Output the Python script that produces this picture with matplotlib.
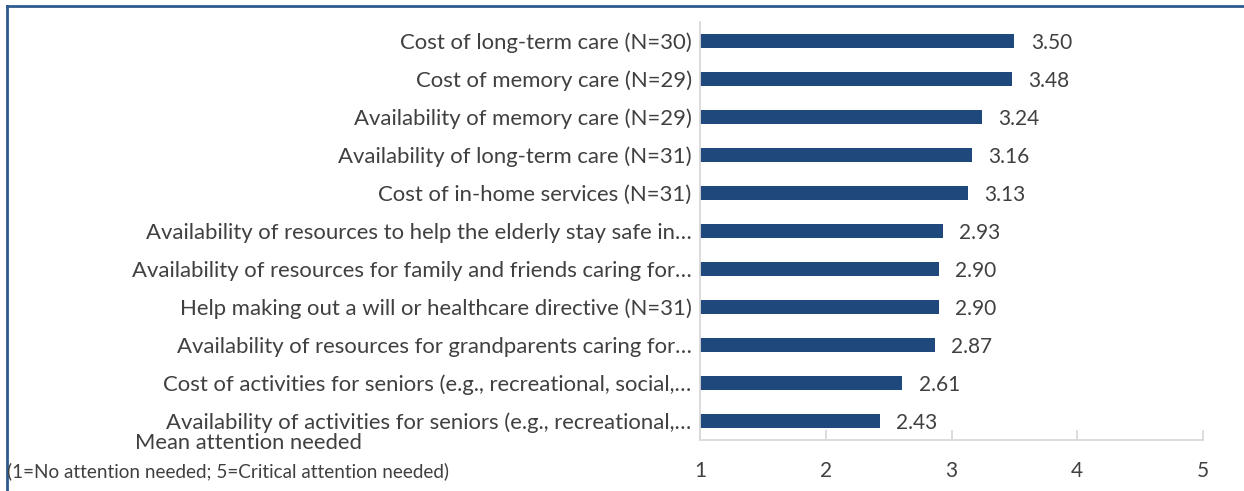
import numpy as np
import matplotlib
matplotlib.use("Agg")
from matplotlib import pyplot as plt
from matplotlib.lines import Line2D

labels = [
    "Cost of long-term care (N=30)",
    "Cost of memory care (N=29)",
    "Availability of memory care (N=29)",
    "Availability of long-term care (N=31)",
    "Cost of in-home services (N=31)",
    "Availability of resources to help the elderly stay safe in…",
    "Availability of resources for family and friends caring for…",
    "Help making out a will or healthcare directive (N=31)",
    "Availability of resources for grandparents caring for…",
    "Cost of activities for seniors (e.g., recreational, social,…",
    "Availability of activities for seniors (e.g., recreational,…",
]
means = [3.50, 3.48, 3.24, 3.16, 3.13, 2.93, 2.90, 2.90, 2.87, 2.61, 2.43]
xticks = [1, 2, 3, 4, 5]

plt.rcParams['font.family'] = ['Lato', 'DejaVu Sans']
txt = "#404040"
bar_c = "#1F497D"

fig = plt.figure(figsize=(12.44, 4.91), dpi=100)
ax = fig.add_axes([700/1244, 1-440/491, 503/1244, 418/491])

y = np.arange(len(labels))
ax.barh(y, np.array(means) - 1, left=1, height=0.37, color=bar_c)
for yi, m in zip(y, means):
    ax.text(m + 0.13, yi + 0.06, f"{m:.2f}", va="center", ha="left", fontsize=15, color=txt)

ax.set_xlim(1, 5)
ax.set_ylim(len(labels) - 0.5, -0.5)
ax.set_yticks(y)
ax.set_yticklabels(labels, fontsize=15.9, color=txt)
ax.set_xticks(xticks)
ax.set_xticklabels([str(t) for t in xticks], fontsize=15, color=txt)
ax.tick_params(axis="y", length=0, pad=6)
ax.tick_params(axis="x", direction="in", length=7, color="#D9D9D9", width=1.3, pad=15)
for s in ["top", "right"]:
    ax.spines[s].set_visible(False)
for s in ["left", "bottom"]:
    ax.spines[s].set_color("#D9D9D9")
    ax.spines[s].set_linewidth(1.3)

fig.text(248/1244, 1-443/491, "Mean attention needed", ha="center", va="center", fontsize=15.8, color=txt)
fig.text(7/1244, 1-471/491, "(1=No attention needed; 5=Critical attention needed)", ha="left", va="center",
         fontsize=13.6, color=txt)

# frame lines
fig.add_artist(Line2D([7/1244, 1], [1-6/491, 1-6/491], transform=fig.transFigure, color="#2E5A8E", lw=2))
fig.add_artist(Line2D([7/1244, 7/1244], [0, 1-6/491], transform=fig.transFigure, color="#2E5A8E", lw=2))

fig.savefig("out.png", dpi=100)
